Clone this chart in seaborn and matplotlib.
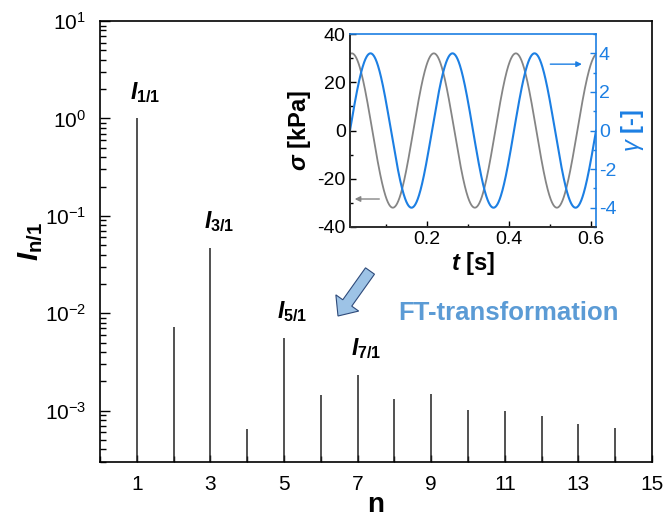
import numpy as np
import pandas as pd
import matplotlib
matplotlib.use("Agg")
import matplotlib.pyplot as plt
import matplotlib.patches as mpatches
import matplotlib.transforms as mtransforms
from matplotlib.ticker import LogLocator, MultipleLocator, NullFormatter, LogFormatterMathtext
import seaborn as sns

# Relative harmonic intensities I_n/1 from the FT of the stress response
harmonic_n = [1, 2, 3, 4, 5, 6, 7, 8, 9, 10, 11, 12, 13, 14]
intensity = [1.0, 7.2e-3, 4.7e-2, 6.4e-4, 5.6e-3, 1.46e-3, 2.33e-3,
             1.32e-3, 1.49e-3, 1.02e-3, 1.0e-3, 8.7e-4, 7.2e-4, 6.7e-4]
labelled_harmonics = [1, 3, 5, 7]
labelled_names = ["1/1", "3/1", "5/1", "7/1"]
n_ticks = [1, 3, 5, 7, 9, 11, 13, 15]

# Oscillatory shear signal shown in the inset
stress_amplitude_kpa = 32.0
strain_amplitude = 4.0
frequency_hz = 5.0
phase_lag_deg = 82.0
t_start, t_end = 0.0125, 0.6125
stress_ticks = [-40, -20, 0, 20, 40]
strain_ticks = [-4, -2, 0, 2, 4]
time_ticks = [0.2, 0.4, 0.6]

BLUE = "#1c7fe3"
GRAY = "#858585"

sns.set_theme(style="ticks")
plt.rcParams.update({
    "font.family": ["Liberation Sans", "DejaVu Sans"],
    "mathtext.fontset": "custom",
    "mathtext.rm": "Liberation Sans",
    "mathtext.it": "Liberation Sans:italic",
    "mathtext.bf": "Liberation Sans:bold",
    "mathtext.sf": "Liberation Sans",
    "axes.unicode_minus": False,
    "text.color": "black",
    "axes.labelcolor": "black",
    "axes.edgecolor": "black",
    "xtick.color": "black",
    "ytick.color": "black",
    "xtick.direction": "in",
    "ytick.direction": "in",
    "axes.linewidth": 1.2,
})
if "mathtext.bfit" in plt.rcParams:
    plt.rcParams["mathtext.bfit"] = "Liberation Sans:italic:bold"

fig = plt.figure(figsize=(6.65, 5.2), dpi=100)

# ---- main spectrum ----
ax = fig.add_axes([0.1504, 0.1125, 0.830, 0.847])
ax.set_yscale("log")
ax.set_xlim(0, 15)
ax.set_ylim(3e-4, 10)
ax.vlines(harmonic_n, 1e-6, intensity, color="#222222", lw=1.1)

ax.set_xticks(n_ticks)
ax.xaxis.set_minor_locator(MultipleLocator(1))
ax.yaxis.set_major_locator(LogLocator(base=10, numticks=10))
ax.yaxis.set_major_formatter(LogFormatterMathtext())
ax.yaxis.set_minor_locator(LogLocator(base=10, subs=np.arange(2, 10), numticks=20))
ax.yaxis.set_minor_formatter(NullFormatter())
ax.tick_params(axis="x", which="major", length=5, width=1, labelsize=15, pad=10)
ax.tick_params(axis="x", which="minor", length=4, width=1)
ax.tick_params(axis="y", which="major", length=7, width=1, labelsize=15, pad=10)
ax.tick_params(axis="y", which="minor", length=4, width=1)
for s in ax.spines.values():
    s.set_visible(True)
    s.set_linewidth(1.2)

ax.set_xlabel("n", fontsize=20, fontweight="bold", labelpad=-2)
ax.set_ylabel(r"$\mathbfit{I}_{\mathbf{n/1}}$", fontsize=21, labelpad=0)

for n, name in zip(labelled_harmonics, labelled_names):
    val = intensity[harmonic_n.index(n)]
    ax.annotate(rf"$\mathbfit{{I}}_{{\mathbf{{{name}}}}}$", xy=(n, val),
                xytext=(6, 14), textcoords="offset points",
                ha="center", va="baseline", fontsize=16.5)

# ---- inset: stress and strain vs time ----
t = np.linspace(t_start, t_end, 800)
omega_t = 2 * np.pi * frequency_hz * (t - t_start)
signal = pd.DataFrame({
    "t": t,
    "stress": stress_amplitude_kpa * np.sin(omega_t + np.deg2rad(phase_lag_deg)),
    "strain": strain_amplitude * np.sin(omega_t),
})

axin = fig.add_axes([0.5263, 0.5635, 0.370, 0.371])
axin.set_facecolor("white")
sns.lineplot(data=signal, x="t", y="stress", ax=axin, color=GRAY, lw=1.3)
axin.set_xlim(t_start, t_end)
axin.set_ylim(-40, 40)
axin.set_yticks(stress_ticks)
axin.yaxis.set_minor_locator(MultipleLocator(10))
axin.set_xticks(time_ticks)
axin.xaxis.set_minor_locator(MultipleLocator(0.1))
axin.tick_params(axis="both", which="major", length=4, width=1, labelsize=14, pad=3)
axin.tick_params(axis="both", which="minor", length=2.5, width=1)
axin.set_xlabel(r"$\mathbfit{t}$ [s]", fontsize=17, fontweight="bold", labelpad=1)
axin.set_ylabel(r"$\mathbfit{\sigma}$ [kPa]", fontsize=17, fontweight="bold", labelpad=3)

ax2 = axin.twinx()
sns.lineplot(data=signal, x="t", y="strain", ax=ax2, color=BLUE, lw=1.5)
ax2.set_ylim(-5, 5)
ax2.set_yticks(strain_ticks)
ax2.yaxis.set_minor_locator(MultipleLocator(1))
ax2.tick_params(axis="y", which="major", length=4, width=1, labelsize=14, pad=2,
                colors=BLUE)
ax2.tick_params(axis="y", which="minor", length=2.5, width=1, colors=BLUE)
ax2.set_ylabel(r"$\mathit{\gamma}$ [-]", fontsize=17, fontweight="bold",
               color=BLUE, labelpad=2)

for s in ("top", "right"):
    axin.spines[s].set_visible(False)
for s in ("left", "bottom"):
    ax2.spines[s].set_color("#333333")
    ax2.spines[s].set_linewidth(1.2)
for s in ("top", "right"):
    ax2.spines[s].set_color(BLUE)
    ax2.spines[s].set_linewidth(1.2)

axin.annotate("", xy=(0.024, -28.4), xytext=(0.084, -28.4),
              arrowprops=dict(arrowstyle="-|>", color=GRAY, lw=1.0,
                              mutation_scale=8, shrinkA=0, shrinkB=0))
ax2.annotate("", xy=(0.578, 3.44), xytext=(0.501, 3.44),
             arrowprops=dict(arrowstyle="-|>", color=BLUE, lw=1.0,
                             mutation_scale=8, shrinkA=0, shrinkB=0))

# ---- FT arrow and caption ----
H = 520
big_arrow = mpatches.FancyArrow(370, H - 271, -32, -45, width=11, head_width=28,
                                head_length=16, length_includes_head=True,
                                fc="#9dc3e6", ec="#2e4a7a", lw=0.8,
                                transform=mtransforms.IdentityTransform())
fig.add_artist(big_arrow)
fig.text(398 / 665, 1 - 313 / H, "FT-transformation", color="#5b9bd5",
         fontsize=18.5, fontweight="bold", va="center", ha="left")

fig.savefig("out.png", dpi=100)
